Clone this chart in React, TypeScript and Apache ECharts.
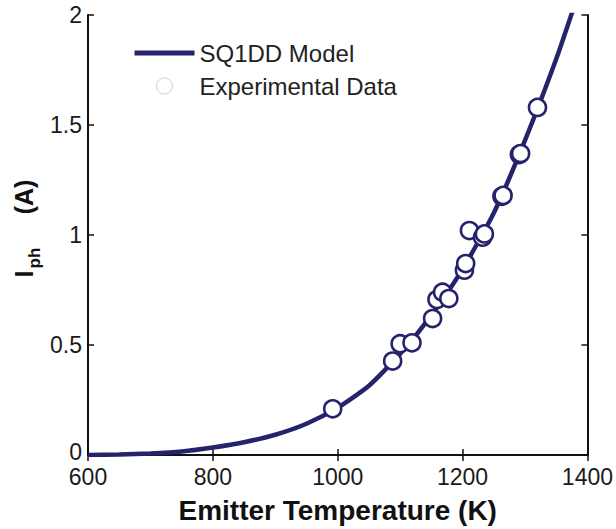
import React, { useEffect, useRef } from "react";
import * as echarts from "echarts";

// SQ1DD model curve: emitter temperature (K) vs photocurrent (A)
const modelTemps = [600, 650, 700, 750, 800, 850, 900, 950, 1000, 1050, 1100, 1150, 1200, 1250, 1300, 1350, 1380];
const modelCurrent = [0.0, 0.002, 0.007, 0.016, 0.034, 0.058, 0.092, 0.142, 0.215, 0.315, 0.46, 0.635, 0.845, 1.1, 1.43, 1.8, 2.05];

// Measured photocurrent points
const expTemps = [992, 1088, 1100, 1119, 1152, 1159, 1168, 1178, 1203, 1205, 1211, 1232, 1235, 1263, 1265, 1291, 1293, 1320];
const expCurrent = [0.21, 0.427, 0.506, 0.51, 0.62, 0.707, 0.74, 0.711, 0.84, 0.87, 1.02, 0.99, 1.005, 1.176, 1.18, 1.366, 1.37, 1.58];

const xTicks = { min: 600, max: 1400, interval: 200 };
const yTicks = { min: 0, max: 2, interval: 0.5 };

const NAVY = "#25236b";
const FONT = "Liberation Sans, Arial, sans-serif";

export default function App() {
  const ref = useRef<HTMLDivElement>(null);

  useEffect(() => {
    if (!ref.current) return;
    const chart = echarts.init(ref.current, undefined, { renderer: "svg" });

    const axisLine = { show: true, lineStyle: { color: "#111", width: 2 } };
    const axisTick = { show: true, inside: true, length: 6, lineStyle: { color: "#111", width: 1.5 } };
    const label = { color: "#1a1a1a", fontSize: 23, lineHeight: 16, fontFamily: FONT };

    chart.setOption({
      animation: false,
      backgroundColor: "#fff",
      grid: { left: 88, right: 28, top: 15, bottom: 69, containLabel: false },
      xAxis: [
        {
          type: "value",
          ...xTicks,
          position: "bottom",
          axisLine,
          axisTick,
          splitLine: { show: false },
          axisLabel: { ...label, margin: 14, formatter: (v: number) => String(v) },
          name: "Emitter Temperature (K)",
          nameLocation: "middle",
          nameGap: 41,
          nameTextStyle: { fontSize: 28, fontWeight: "bold", color: "#111", fontFamily: FONT },
        },
        {
          type: "value",
          ...xTicks,
          position: "top",
          axisLine,
          axisTick,
          splitLine: { show: false },
          axisLabel: { show: false },
        },
      ],
      yAxis: [
        {
          type: "value",
          ...yTicks,
          position: "left",
          axisLine,
          axisTick,
          splitLine: { show: false },
          axisLabel: {
            ...label,
            margin: 6,
            // lift the origin label slightly so it clears the 600 below it
            formatter: (v: number) => (v === 0 ? "{z|0}" : String(v)),
            rich: {
              z: { fontSize: 23, color: "#1a1a1a", fontFamily: FONT, lineHeight: 16, padding: [0, 0, 6, 0] },
            },
          },
        },
        {
          type: "value",
          ...yTicks,
          position: "right",
          axisLine,
          axisTick,
          splitLine: { show: false },
          axisLabel: { show: false },
        },
      ],
      legend: {
        orient: "vertical",
        left: 132,
        top: 41,
        padding: 0,
        itemWidth: 60,
        itemHeight: 16,
        itemGap: 9,
        textStyle: { color: "#222", fontSize: 24, lineHeight: 20, padding: [4, 0, 0, 0], fontFamily: FONT },
        data: [
          {
            name: "SQ1DD Model",
            itemStyle: { opacity: 0 },
            lineStyle: { width: 5, color: NAVY },
          },
          {
            name: "Experimental Data",
            itemStyle: { color: "#fff", borderColor: "#c9c9de", borderWidth: 1 },
          },
        ],
      },
      series: [
        {
          name: "SQ1DD Model",
          type: "line",
          data: modelTemps.map((t, i) => [t, modelCurrent[i]]),
          symbol: "none",
          smooth: 0.2,
          clip: true,
          lineStyle: { color: NAVY, width: 4.5 },
          itemStyle: { color: NAVY },
          z: 2,
        },
        {
          name: "Experimental Data",
          type: "scatter",
          data: expTemps.map((t, i) => [t, expCurrent[i]]),
          symbol: "circle",
          symbolSize: 17,
          itemStyle: { color: "#fff", borderColor: NAVY, borderWidth: 2.6, opacity: 1 },
          z: 3,
        },
      ],
      graphic: [
        {
          type: "text",
          x: 24.3,
          y: 274,
          rotation: Math.PI / 2,
          style: { text: "I", font: `bold 25px ${FONT}`, fill: "#111", align: "center", verticalAlign: "middle" },
        },
        {
          type: "text",
          x: 34.5,
          y: 258,
          rotation: Math.PI / 2,
          style: { text: "ph", font: `bold 17px ${FONT}`, fill: "#111", align: "center", verticalAlign: "middle" },
        },
        {
          type: "text",
          x: 24.3,
          y: 197,
          rotation: Math.PI / 2,
          style: { text: "(A)", font: `bold 25px ${FONT}`, fill: "#111", align: "center", verticalAlign: "middle" },
        },
      ],
    });

    return () => chart.dispose();
  }, []);

  return (
    <div
      ref={ref}
      style={{ position: "fixed", left: 0, top: 0, width: 616, height: 529, background: "#fff" }}
    />
  );
}
